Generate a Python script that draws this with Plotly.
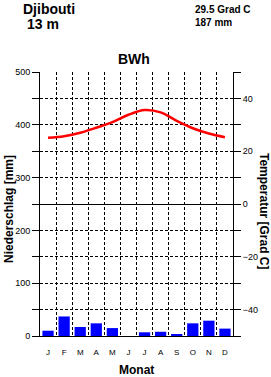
import plotly.graph_objects as go

station = "Djibouti"
elevation = "13 m"
mean_temp = "29.5 Grad C"
total_prec = "187 mm"
climate = "BWh"
months = ["J", "F", "M", "A", "M", "J", "J", "A", "S", "O", "N", "D"]
precip_mm = [10, 37, 17, 24, 15, 0, 7, 8, 2, 24, 29, 14]
temp_c = [25.1, 25.7, 27.0, 28.9, 31.0, 33.8, 35.6, 34.7, 31.5, 28.7, 26.7, 25.3]
prec_ticks = [0, 100, 200, 300, 400, 500]
prec_minor = [50, 150, 250, 350, 450]
temp_ticks = [-40, -20, 0, 20, 40]
temp_minor = [-50, -30, -10, 10, 30, 50]

xpos = list(range(1, len(months) + 1))
bounds = [i + 0.5 for i in xpos[:-1]]

FONT = "Liberation Sans"
DASH = "3px,2px"
fig = go.Figure()
fig.add_trace(go.Bar(x=xpos, y=precip_mm, marker=dict(color="#0000ff", line=dict(width=0)),
                     width=0.7, yaxis="y", showlegend=False))
fig.add_trace(go.Scatter(x=xpos, y=temp_c, mode="lines", line=dict(color="#ff0000", width=2.5, shape="spline"),
                         yaxis="y2", showlegend=False))

fig.update_layout(
    width=271, height=377,
    margin=dict(l=40, r=38, t=72, b=41),
    paper_bgcolor="white", plot_bgcolor="white",
    font=dict(family=FONT, color="black", size=9),
    xaxis=dict(range=[0.5, 12.5], tickvals=xpos, ticktext=months, showgrid=False,
               showline=True, linecolor="black", linewidth=1, ticks="", ticklen=0,
               ticklabelstandoff=8,
               tickfont=dict(size=8, family=FONT), zeroline=False,
               minor=dict(tickvals=bounds, showgrid=True, gridcolor="black", griddash=DASH, gridwidth=1, ticks="")),
    yaxis=dict(range=[0, 500], tickvals=prec_ticks, ticks="outside", ticklen=7, tickcolor="black",
               showline=True, linecolor="black", linewidth=1, showgrid=True, gridcolor="black",
               griddash=DASH, gridwidth=1, zeroline=False, tickfont=dict(size=9, family=FONT),
               minor=dict(tickvals=prec_minor, ticks="outside", ticklen=7, tickcolor="black",
                          showgrid=True, gridcolor="black", griddash=DASH, gridwidth=1)),
    yaxis2=dict(range=[-50, 50], overlaying="y", side="right", tickvals=temp_ticks,
                ticks="outside", ticklen=7, tickcolor="black", showline=True, linecolor="black",
                linewidth=1, showgrid=False, zeroline=True, zerolinecolor="black", zerolinewidth=1,
                tickfont=dict(size=9, family=FONT),
                minor=dict(tickvals=temp_minor, ticks="outside", ticklen=7, tickcolor="black")),
)

pw, ph = 271 - 40 - 38, 377 - 72 - 41
ann = [
    dict(text="<b>" + station + "</b>", x=22, y=0, size=14, xanchor="left", yanchor="top"),
    dict(text="<b>" + elevation + "</b>", x=26, y=15, size=14, xanchor="left", yanchor="top"),
    dict(text="<b>" + mean_temp + "</b>", x=194, y=3, size=10, xanchor="left", yanchor="top"),
    dict(text="<b>" + total_prec + "</b>", x=194, y=16, size=10, xanchor="left", yanchor="top"),
    dict(text="<b>" + climate + "</b>", x=134, y=50, size=14, xanchor="center", yanchor="top"),
    dict(text="<b>Monat</b>", x=136, y=362, size=12, xanchor="center", yanchor="top"),
]
for a in ann:
    fig.add_annotation(text=a["text"], xref="paper", yref="paper",
                       x=(a["x"] - 40) / pw, y=(377 - 41 - a["y"]) / ph, showarrow=False,
                       font=dict(size=a["size"], family=FONT, color="black"),
                       xanchor=a["xanchor"], yanchor=a["yanchor"], borderpad=0)
fig.add_annotation(text="<b>Niederschlag [mm]</b>", xref="paper", yref="paper",
                   x=(9 - 40) / pw, y=(377 - 41 - 209) / ph, textangle=-90, showarrow=False,
                   font=dict(size=12, family=FONT, color="black"), xanchor="center", yanchor="middle")
fig.add_annotation(text="<b>Temperatur [Grad C]</b>", xref="paper", yref="paper",
                   x=(264 - 40) / pw, y=(377 - 41 - 211) / ph, textangle=90, showarrow=False,
                   font=dict(size=12, family=FONT, color="black"), xanchor="center", yanchor="middle")

fig.write_html("out.html")
